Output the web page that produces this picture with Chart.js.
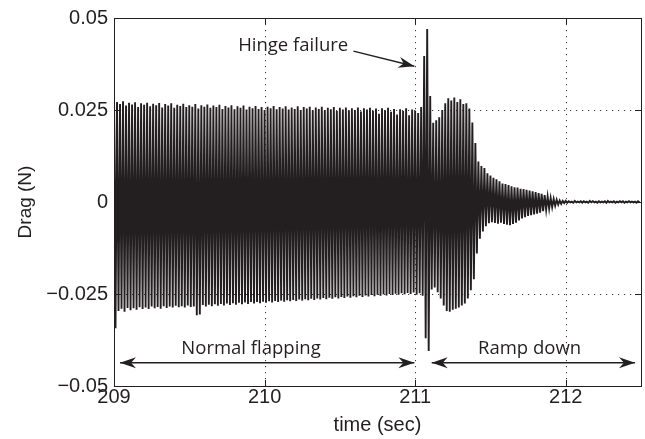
<!DOCTYPE html>
<html>
<head>
<meta charset="utf-8">
<script src="https://cdn.jsdelivr.net/npm/chart.js@4.4.1/dist/chart.umd.min.js"></script>
<style>
  html, body { margin: 0; padding: 0; background: #fff; }
  #wrap { width: 645px; height: 439px; }
</style>
</head>
<body>
<div id="wrap"><canvas id="dragchart" width="645" height="439"></canvas></div>
<script>
// one up/down peak pair per flap stroke
var t0 = 209;
var flapPeriod = 0.02;

var upperPeaks = [
  0.0297, 0.0272, 0.0266, 0.0274, 0.0262, 0.0270, 0.0265, 0.0271, 0.0258, 0.0268,
  0.0264, 0.0270, 0.0260, 0.0267, 0.0263, 0.0269, 0.0257, 0.0266, 0.0262, 0.0268,
  0.0256, 0.0264, 0.0261, 0.0267, 0.0258, 0.0263, 0.0259, 0.0266, 0.0254, 0.0263,
  0.0259, 0.0265, 0.0256, 0.0262, 0.0258, 0.0264, 0.0253, 0.0261, 0.0257, 0.0263,
  0.0252, 0.0260, 0.0256, 0.0262, 0.0251, 0.0259, 0.0255, 0.0261, 0.0253, 0.0258,
  0.0250, 0.0259, 0.0255, 0.0261, 0.0252, 0.0258, 0.0254, 0.0260, 0.0251, 0.0257,
  0.0253, 0.0260, 0.0250, 0.0258, 0.0254, 0.0259, 0.0249, 0.0257, 0.0253, 0.0259,
  0.0250, 0.0256, 0.0252, 0.0258, 0.0247, 0.0256, 0.0251, 0.0257, 0.0249, 0.0255,
  0.0250, 0.0257, 0.0246, 0.0255, 0.0251, 0.0256, 0.0248, 0.0254, 0.0240, 0.0255,
  0.0249, 0.0256, 0.0245, 0.0253, 0.0238, 0.0252, 0.0247, 0.0255, 0.0236, 0.0251,
  0.0248, 0.0242, 0.0258,
  0.0397, 0.0470,   // hinge failure
  0.0288, 0.0215, 0.0222, 0.0230, 0.0250, 0.0268, 0.0282, 0.0276, 0.0284, 0.0272,
  0.0279, 0.0266, 0.0268, 0.0254, 0.0216, 0.0160,
  0.0110, 0.0098, 0.0092, 0.0078, 0.0072, 0.0066, 0.0062, 0.0056, 0.0050, 0.0049,
  0.0046, 0.0043, 0.0040, 0.0039, 0.0036, 0.0035, 0.0033, 0.0031, 0.0029, 0.0027,
  0.0024, 0.0022, 0.0019, 0.0015, 0.0011, 0.0008, 0.0006, 0.0004, 0.0003, 0.0003,
  0.0002, 0.0001, 0.0003, 0.0001, 0.0002, 0.0002, 0.0001, 0.0003, 0.0002, 0.0001,
  0.0002, 0.0001, 0.0002, 0.0003, 0.0001, 0.0002, 0.0001, 0.0002, 0.0002, 0.0001,
  0.0002, 0.0001, 0.0001, 0.0002
];

var lowerPeaks = [
  -0.0343, -0.0296, -0.0290, -0.0298, -0.0288, -0.0294, -0.0289, -0.0293, -0.0286, -0.0291,
  -0.0287, -0.0291, -0.0284, -0.0289, -0.0285, -0.0290, -0.0283, -0.0288, -0.0284, -0.0287,
  -0.0282, -0.0286, -0.0283, -0.0287, -0.0281, -0.0285, -0.0284, -0.0308, -0.0306, -0.0280,
  -0.0284, -0.0279, -0.0283, -0.0278, -0.0282, -0.0277, -0.0281, -0.0276, -0.0280, -0.0275,
  -0.0279, -0.0274, -0.0278, -0.0273, -0.0277, -0.0272, -0.0276, -0.0272, -0.0275, -0.0271,
  -0.0274, -0.0270, -0.0273, -0.0269, -0.0272, -0.0268, -0.0271, -0.0267, -0.0270, -0.0266,
  -0.0269, -0.0265, -0.0268, -0.0264, -0.0267, -0.0263, -0.0266, -0.0262, -0.0265, -0.0261,
  -0.0264, -0.0260, -0.0263, -0.0259, -0.0262, -0.0258, -0.0261, -0.0257, -0.0260, -0.0256,
  -0.0259, -0.0255, -0.0258, -0.0254, -0.0257, -0.0253, -0.0256, -0.0252, -0.0255, -0.0251,
  -0.0254, -0.0250, -0.0253, -0.0249, -0.0252, -0.0248, -0.0251, -0.0247, -0.0250, -0.0246,
  -0.0252, -0.0248, -0.0255,
  -0.0370, -0.0405,   // hinge failure
  -0.0238, -0.0232, -0.0245, -0.0262, -0.0281, -0.0296, -0.0298, -0.0293, -0.0290, -0.0287,
  -0.0281, -0.0276, -0.0262, -0.0240, -0.0210, -0.0140,
  -0.0100, -0.0080, -0.0066, -0.0058, -0.0055, -0.0057, -0.0059, -0.0056, -0.0060, -0.0062,
  -0.0063, -0.0060, -0.0056, -0.0050, -0.0045, -0.0041, -0.0038, -0.0036, -0.0034, -0.0032,
  -0.0029, -0.0025, -0.0021, -0.0018, -0.0014, -0.0010, -0.0007, -0.0005, -0.0003, -0.0002,
  -0.0001, -0.0002, -0.0001, -0.0001, -0.0002, -0.0001, -0.0002, -0.0001, -0.0001, -0.0002,
  -0.0001, -0.0001, -0.0002, -0.0001, -0.0001, -0.0002, -0.0001, -0.0001, -0.0002, -0.0001,
  -0.0001, -0.0001, -0.0002, -0.0001
];

var xTicks = [209, 210, 211, 212];
var yTicks = [-0.05, -0.025, 0, 0.025, 0.05];
var xGrid = [210, 211, 212];
var yGrid = [-0.025, 0, 0.025];

var ink = '#231f20';
var tickFont = { family: "'Liberation Sans', Arial, Helvetica, sans-serif", size: 20 };
var noteFont = "18.5px 'Open Sans', 'Noto Sans', sans-serif";

// build the trace: upper peak, then lower peak half a stroke later
var trace = [];
for (var i = 0; i < upperPeaks.length; i++) {
  trace.push({ x: t0 + i * flapPeriod, y: upperPeaks[i] });
  trace.push({ x: t0 + (i + 0.5) * flapPeriod, y: lowerPeaks[i] });
}

function arrowHead(ctx, x1, y1, x2, y2) {
  // filled head with notched back, tip at (x2, y2)
  var a = Math.atan2(y2 - y1, x2 - x1);
  var len = 16, half = 5.5, notch = 11;
  ctx.save();
  ctx.translate(x2, y2);
  ctx.rotate(a);
  ctx.beginPath();
  ctx.moveTo(0, 0);
  ctx.lineTo(-len, -half);
  ctx.lineTo(-notch, 0);
  ctx.lineTo(-len, half);
  ctx.closePath();
  ctx.fill();
  ctx.restore();
}

function arrow(ctx, x1, y1, x2, y2, both) {
  ctx.beginPath();
  ctx.moveTo(x1, y1);
  ctx.lineTo(x2, y2);
  ctx.stroke();
  arrowHead(ctx, x1, y1, x2, y2);
  if (both) arrowHead(ctx, x2, y2, x1, y1);
}

var matlabAxes = {
  id: 'matlabAxes',
  beforeDatasetsDraw: function(chart) {
    var ctx = chart.ctx, a = chart.chartArea;
    var xs = chart.scales.x, ys = chart.scales.y;
    ctx.save();
    ctx.strokeStyle = '#3a3a3a';
    ctx.lineWidth = 1;
    ctx.setLineDash([1.2, 4.8]);
    xGrid.forEach(function(v) {
      var px = Math.round(xs.getPixelForValue(v)) + 0.5;
      ctx.beginPath(); ctx.moveTo(px, a.top); ctx.lineTo(px, a.bottom); ctx.stroke();
    });
    yGrid.forEach(function(v) {
      var py = Math.round(ys.getPixelForValue(v)) + 0.5;
      ctx.beginPath(); ctx.moveTo(a.left, py); ctx.lineTo(a.right, py); ctx.stroke();
    });
    ctx.restore();
  },
  afterDatasetsDraw: function(chart) {
    var ctx = chart.ctx, a = chart.chartArea;
    var xs = chart.scales.x, ys = chart.scales.y;
    var tl = 6;
    ctx.save();
    ctx.strokeStyle = ink;
    ctx.lineWidth = 1;
    ctx.strokeRect(Math.round(a.left) + 0.5, Math.round(a.top) + 0.5,
                   Math.round(a.right - a.left), Math.round(a.bottom - a.top));
    ctx.beginPath();
    xTicks.forEach(function(v) {
      var px = Math.round(xs.getPixelForValue(v)) + 0.5;
      ctx.moveTo(px, a.bottom); ctx.lineTo(px, a.bottom - tl);
      ctx.moveTo(px, a.top); ctx.lineTo(px, a.top + tl);
    });
    yTicks.forEach(function(v) {
      var py = Math.round(ys.getPixelForValue(v)) + 0.5;
      ctx.moveTo(a.left, py); ctx.lineTo(a.left + tl, py);
      ctx.moveTo(a.right, py); ctx.lineTo(a.right - tl, py);
    });
    ctx.stroke();

    // annotations
    ctx.fillStyle = ink;
    ctx.strokeStyle = ink;
    ctx.lineWidth = 1.5;
    ctx.font = noteFont;
    ctx.textAlign = 'center';
    ctx.textBaseline = 'alphabetic';
    ctx.fillText('Hinge failure', xs.getPixelForValue(210.19), ys.getPixelForValue(0.0409));
    ctx.fillText('Normal flapping', xs.getPixelForValue(209.91), ys.getPixelForValue(-0.0412));
    ctx.fillText('Ramp down', xs.getPixelForValue(211.76), ys.getPixelForValue(-0.0412));

    arrow(ctx, xs.getPixelForValue(210.59), ys.getPixelForValue(0.0410),
               xs.getPixelForValue(210.995), ys.getPixelForValue(0.0369), false);
    var ay = ys.getPixelForValue(-0.0437);
    arrow(ctx, xs.getPixelForValue(209.04), ay, xs.getPixelForValue(210.995), ay, true);
    arrow(ctx, xs.getPixelForValue(211.11), ay, xs.getPixelForValue(212.46), ay, true);
    ctx.restore();
  }
};

var chart = new Chart(document.getElementById('dragchart').getContext('2d'), {
  type: 'scatter',
  data: {
    datasets: [{
      data: trace,
      showLine: true,
      borderColor: ink,
      borderWidth: 1.9,
      pointRadius: 0,
      tension: 0
    }]
  },
  options: {
    responsive: false,
    animation: false,
    events: [],
    layout: { padding: { top: 15, right: 4, left: 0, bottom: 0 } },
    plugins: { legend: { display: false }, tooltip: { enabled: false } },
    scales: {
      x: {
        type: 'linear',
        min: 209,
        max: 212.5,
        afterBuildTicks: function(s) { s.ticks = xTicks.map(function(v) { return { value: v }; }); },
        afterFit: function(s) { s.height = 53; },
        grid: { display: false, drawTicks: false },
        border: { display: false },
        ticks: { font: tickFont, color: ink, padding: -1, maxRotation: 0, autoSkip: false,
                 callback: function(v) { return String(v); } },
        title: { display: true, text: 'time (sec)', font: tickFont, color: ink,
                 padding: { top: 0, bottom: 2 } }
      },
      y: {
        type: 'linear',
        min: -0.05,
        max: 0.05,
        afterBuildTicks: function(s) { s.ticks = yTicks.map(function(v) { return { value: v }; }); },
        afterFit: function(s) { s.width = 114; },
        grid: { display: false, drawTicks: false },
        border: { display: false },
        ticks: { font: tickFont, color: ink, padding: 6,
                 callback: function(v) { return v === 0 ? '0' : (v < 0 ? '\u2212' : '') + Math.abs(v); } },
        title: { display: true, text: 'Drag (N)', font: { family: tickFont.family, size: 19 }, color: ink,
                 padding: { top: 14, bottom: 0 } }
      }
    }
  },
  plugins: [matlabAxes]
});
</script>
</body>
</html>
